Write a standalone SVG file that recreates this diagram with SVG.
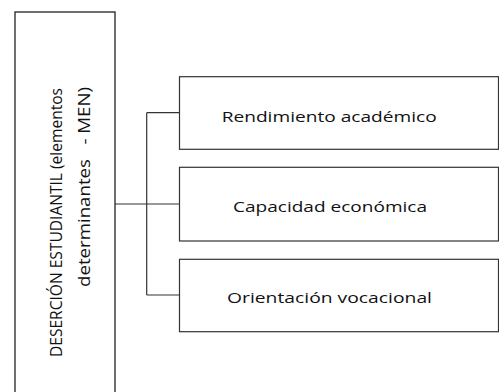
<svg xmlns="http://www.w3.org/2000/svg" width="499" height="392" viewBox="0 0 499 392">
<style>
.box{fill:#fff;stroke:#222;stroke-width:1.3}
.child{fill:#fff;stroke:#333;stroke-width:1.2}
.conn{fill:none;stroke:#333;stroke-width:1.2}
.t{font-family:"Open Sans","DejaVu Sans",sans-serif;fill:#111}
</style>
<rect width="499" height="392" fill="#fff"/>
<g id="connectors">
<path class="conn" d="M115 204H179.5M146.7 112.7V295M146.7 112.7H179.5M146.7 295H179.5"/>
</g>
<g id="root">
<rect class="box" x="15" y="12" width="100" height="400"/>
<text class="t" font-size="17" transform="translate(62 357) rotate(-90)" textLength="269" lengthAdjust="spacingAndGlyphs">DESERCIÓN ESTUDIANTIL (elementos</text>
<text class="t" font-size="17" transform="translate(90 287) rotate(-90)" textLength="200" lengthAdjust="spacingAndGlyphs" xml:space="preserve">determinantes   - MEN)</text>
</g>
<g id="n1">
<rect class="child" x="179.5" y="76.7" width="319" height="72.6"/>
<text class="t" font-size="15" x="221.7" y="121.5" textLength="215" lengthAdjust="spacingAndGlyphs">Rendimiento académico</text>
</g>
<g id="n2">
<rect class="child" x="179.5" y="167.3" width="319" height="73.7"/>
<text class="t" font-size="15" x="233" y="212" textLength="194" lengthAdjust="spacingAndGlyphs">Capacidad económica</text>
</g>
<g id="n3">
<rect class="child" x="179.5" y="259.3" width="319" height="72.4"/>
<text class="t" font-size="15" x="227" y="303" textLength="205" lengthAdjust="spacingAndGlyphs">Orientación vocacional</text>
</g>
</svg>
